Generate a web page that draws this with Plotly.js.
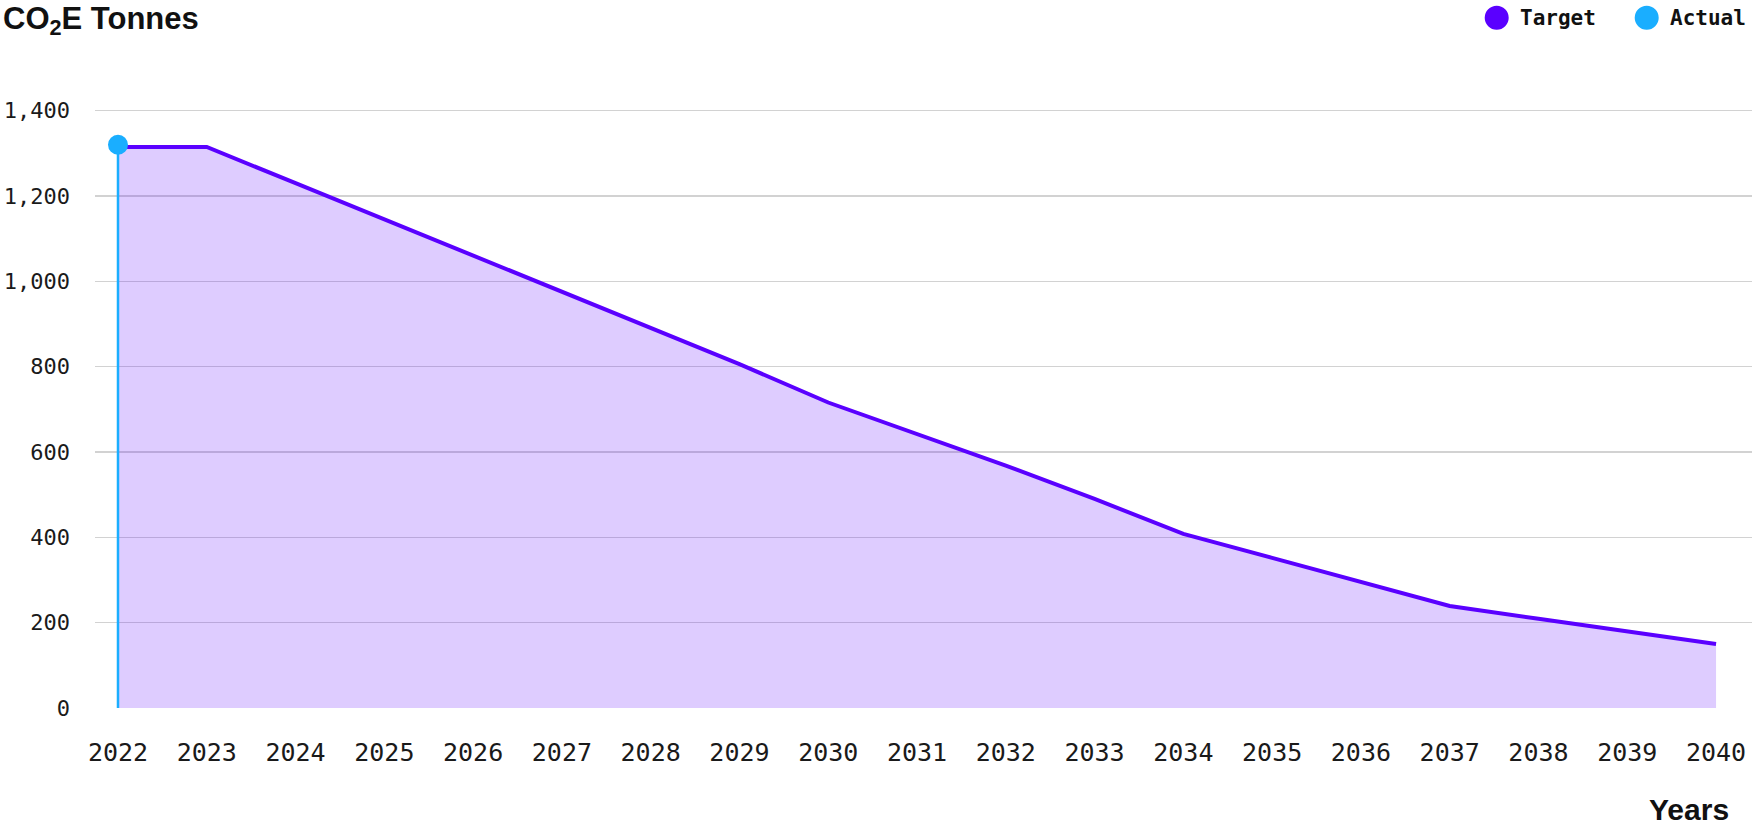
<!DOCTYPE html>
<html>
<head>
<meta charset="utf-8">
<script src="https://cdn.plot.ly/plotly-3.0.1.min.js"></script>
<style>
  html, body { margin: 0; padding: 0; background: #ffffff; }
  #chart { width: 1752px; height: 834px; }
</style>
</head>
<body>
<div id="chart"></div>
<script>
// ---- data ----
var years = [2022, 2023, 2024, 2025, 2026, 2027, 2028, 2029, 2030, 2031,
             2032, 2033, 2034, 2035, 2036, 2037, 2038, 2039, 2040];
var targetValues = [1315, 1315, 1230, 1145, 1060, 975, 891, 806, 716, 642,
                    568, 490, 408, 352, 296, 239, 209, 179, 150];
var actualYears = [2022];
var actualValues = [1320];
var seriesNames = ['Target', 'Actual'];
var yTickValues = [0, 200, 400, 600, 800, 1000, 1200, 1400];
var yTickLabels = ['0', '200', '400', '600', '800', '1,000', '1,200', '1,400'];
var xTickLabels = years.map(function (y) { return String(y); });
var yAxisTitle = 'CO<sub>2</sub>E Tonnes';
var xAxisTitle = 'Years';

// ---- styles ----
var targetColor = '#5A00FF';
var actualColor = '#1AAEFF';
var monoFont = 'DejaVu Sans Mono, Liberation Mono, monospace';
var boldFont = 'Liberation Sans, Arial, sans-serif';

var traces = [
  {
    type: 'scatter',
    mode: 'lines',
    x: years,
    y: targetValues,
    name: seriesNames[0],
    line: { color: targetColor, width: 4 },
    fill: 'tozeroy',
    fillcolor: 'rgba(91,0,255,0.2)',
    showlegend: false,
    hoverinfo: 'x+y'
  },
  {
    type: 'scatter',
    mode: 'markers',
    x: actualYears,
    y: actualValues,
    name: seriesNames[1],
    marker: { color: actualColor, size: 20 },
    error_y: {
      type: 'data',
      symmetric: false,
      array: actualValues.map(function () { return 0; }),
      arrayminus: actualValues,
      color: actualColor,
      thickness: 2.5,
      width: 0
    },
    showlegend: false,
    cliponaxis: false,
    hoverinfo: 'x+y'
  }
];

var plotL = 95, plotR = 0, plotT = 100, plotB = 126;
var W = 1752, H = 834;
var pw = W - plotL - plotR, ph = H - plotT - plotB;
function px2x(px) { return (px - plotL) / pw; }
function px2y(py) { return (H - plotB - py) / ph; }

var legendY = px2y(17.7);
var legendItems = [
  { name: seriesNames[0], color: targetColor, cx: px2x(1496.7), tx: px2x(1518) },
  { name: seriesNames[1], color: actualColor, cx: px2x(1646.7), tx: px2x(1668) }
];

var shapes = legendItems.map(function (it) {
  return {
    type: 'circle', xref: 'paper', yref: 'paper',
    xsizemode: 'pixel', ysizemode: 'pixel',
    xanchor: it.cx, yanchor: legendY,
    x0: -12, x1: 12, y0: -12, y1: 12,
    fillcolor: it.color, line: { width: 0 }
  };
});

var annotations = legendItems.map(function (it) {
  return {
    text: it.name, xref: 'paper', yref: 'paper',
    x: it.tx, y: legendY, xanchor: 'left', yanchor: 'middle',
    showarrow: false,
    font: { family: monoFont, size: 21, color: '#111111', weight: 700 }
  };
});
annotations.push({
  text: xAxisTitle, xref: 'paper', yref: 'paper',
  x: px2x(1731), y: px2y(810), xanchor: 'right', yanchor: 'middle',
  showarrow: false,
  font: { family: boldFont, size: 30, color: '#111111', weight: 700 }
});

var layout = {
  width: W, height: H,
  margin: { l: plotL, r: plotR, t: plotT, b: plotB, pad: 0 },
  paper_bgcolor: '#ffffff',
  plot_bgcolor: '#ffffff',
  showlegend: false,
  title: {
    text: yAxisTitle,
    x: 3 / W, xref: 'container', xanchor: 'left',
    y: 1 - 18 / H, yref: 'container', yanchor: 'middle',
    font: { family: boldFont, size: 31, color: '#111111', weight: 700 }
  },
  xaxis: {
    range: [2021.741, 2040.405],
    tickmode: 'array',
    tickvals: years,
    ticktext: xTickLabels,
    showgrid: false,
    zeroline: false,
    showline: false,
    ticks: '',
    ticklabelstandoff: 27,
    tickfont: { family: monoFont, size: 25, color: '#1a1a1a' },
    fixedrange: true
  },
  yaxis: {
    range: [0, 1425],
    tickmode: 'array',
    tickvals: yTickValues,
    ticktext: yTickLabels,
    showgrid: true,
    gridcolor: '#d2d2d2',
    gridwidth: 1.5,
    zeroline: false,
    showline: false,
    ticks: '',
    ticklabelstandoff: 24,
    tickfont: { family: monoFont, size: 22, color: '#1a1a1a' },
    fixedrange: true
  },
  shapes: shapes,
  annotations: annotations
};

Plotly.newPlot('chart', traces, layout, { displayModeBar: false, staticPlot: true });
</script>
</body>
</html>
